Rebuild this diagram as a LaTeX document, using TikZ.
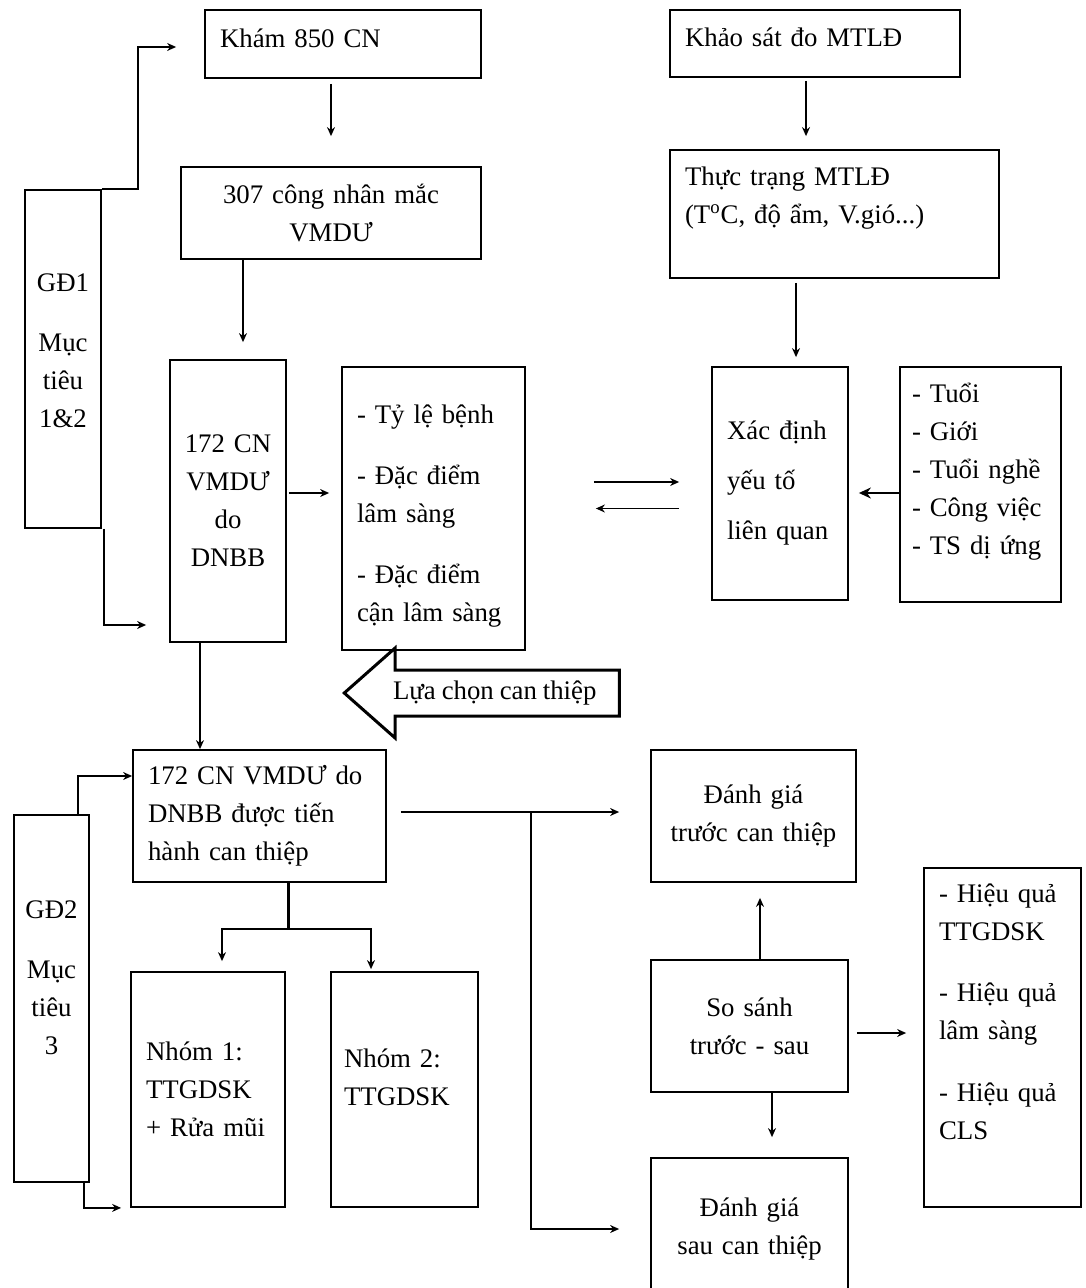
\documentclass[tikz,border=0pt]{standalone}
\usepackage{fontspec}
\setmainfont{Liberation Serif}
\usetikzlibrary{arrows.meta,shapes.arrows}
\newcommand{\boxfont}{\fontsize{13.4pt}{19pt}\selectfont\spaceskip=0.22em plus 0.1em minus 0.05em\relax}

\begin{document}
\begin{tikzpicture}[x=0.5pt, y=-0.5pt,
    box/.style={draw, line width=0.9pt, inner ysep=0pt, inner xsep=7.5pt, align=left, font=\boxfont},
    cbox/.style={box, align=center},
    arr/.style={-{Stealth[length=4.5pt,width=4pt]}, line width=0.6pt},
    bigarr/.style={-{Stealth[length=6pt,width=5.5pt]}, line width=0.8pt},
    bigarrow/.style={single arrow, draw, line width=1.5pt, shape border rotate=180,
        single arrow head extend=11pt, single arrow tip angle=83, minimum height=137.5pt,
        inner xsep=4pt, inner ysep=4pt, text height=10pt, text depth=3.5pt, font=\boxfont}]
    \useasboundingbox (0,0) rectangle (1085,1288);

    % Stage 1
    \node[box, text width=123pt, minimum height=34pt, text depth=6pt] (kham) at (343,44) {Khám 850 CN};
    \node[cbox, text width=135pt, minimum height=46pt] (cn307) at (331,213) {307 công nhân mắc\\VMDƯ};
    \node[cbox, inner xsep=4pt, text width=50pt, minimum height=141pt] (cn172) at (228,501) {172 CN\\VMDƯ\\do\\DNBB};
    \node[box, text width=76.5pt, minimum height=141.5pt, text depth=94pt] (tyle) at (433.5,508.5)
        {- Tỷ lệ bệnh\\[11.5pt]- Đặc điểm\\lâm sàng\\[11.5pt]- Đặc điểm\\cận lâm sàng};
    \node[cbox, inner xsep=2pt, text width=34pt, minimum height=169pt, text depth=76pt] (gd1) at (63,359)
        {GĐ1\\[11pt]Mục\\tiêu\\1\&2};

    % Work environment
    \node[box, text width=130pt, minimum height=33.5pt, text depth=6pt] (khaosat) at (815,43.5) {Khảo sát đo MTLĐ};
    \node[box, text width=149.5pt, minimum height=64pt, text depth=37.5pt] (thuctrang) at (834.5,214)
        {Thực trạng MTLĐ\\(T\textsuperscript{o}C, độ ẩm, V.gió...)};
    \node[box, text width=53pt, minimum height=116.5pt] (xacdinh) at (780,483.5)
        {Xác định\\[6pt]yếu tố\\[6pt]liên quan};
    \node[box, inner xsep=6pt, text width=68.5pt, minimum height=117.5pt, text depth=92pt] (tuoi) at (980.5,484.5)
        {- Tuổi\\- Giới\\- Tuổi nghề\\- Công việc\\- TS dị ứng};

    % Selection arrow
    \node[bigarrow, anchor=tip] (luachon) at (342,693) {Lựa chọn can thiệp};

    % Stage 2
    \node[box, text width=111.5pt, minimum height=66pt] (canthiep) at (259.5,816)
        {172 CN VMDƯ do\\DNBB được tiến\\hành can thiệp};
    \node[cbox, inner xsep=2pt, text width=33.5pt, minimum height=183.5pt, text depth=89pt] (gd2) at (51.5,998.5)
        {GĐ2\\[11pt]Mục\\tiêu\\3};
    \node[box, text width=62pt, minimum height=117.5pt] (nhom1) at (208,1089.5) {Nhóm 1:\\TTGDSK\\+ Rửa mũi};
    \node[box, inner xsep=6.5pt, text width=60.5pt, minimum height=117.5pt, text depth=31pt] (nhom2) at (404.5,1089.5)
        {Nhóm 2:\\TTGDSK};
    \node[cbox, text width=87.5pt, minimum height=66pt] (dgtruoc) at (753.5,816) {Đánh giá\\trước can thiệp};
    \node[cbox, text width=83.5pt, minimum height=66pt] (sosanh) at (749.5,1026) {So sánh\\trước - sau};
    \node[cbox, text width=83.5pt, minimum height=71pt] (dgsau) at (749.5,1229) {Đánh giá\\sau can thiệp};
    \node[box, text width=63.5pt, minimum height=169.5pt, text depth=144pt] (hieuqua) at (1002.5,1037.5)
        {- Hiệu quả\\TTGDSK\\[11.5pt]- Hiệu quả\\lâm sàng\\[12pt]- Hiệu quả\\CLS};

    % Connectors, stage 1
    \draw[arr, shorten <=2.5pt, shorten >=15pt] (cn307.north |- kham.south) -- (cn307.north);
    \draw[arr, shorten >=8.5pt] ([xshift=7.5pt]cn172.north |- cn307.south) -- ([xshift=7.5pt]cn172.north);
    \draw[arr, shorten <=1pt, shorten >=6pt] ([yshift=4pt]cn172.east) -- ([yshift=4pt]cn172.east -| tyle.west);
    \draw[arr, shorten >=14pt] (gd1.north east) -- ++(18pt,0) |- ([yshift=-1.5pt]kham.west);
    \draw[arr, shorten >=11.5pt] ([xshift=1pt]gd1.south east) |- ([yshift=-62pt]cn172.west);
    \draw[arr, shorten <=34pt, shorten >=16pt] ([yshift=13.25pt]tyle.east) -- ([yshift=13.25pt]tyle.east -| xacdinh.west);
    \draw[arr, shorten <=16pt, shorten >=35pt] (xacdinh.west |- tyle.east) -- (tyle.east);

    % Connectors, work environment
    \draw[arr, shorten <=1.5pt, shorten >=6.5pt] ([xshift=-4.5pt]khaosat.south) -- ([xshift=-4.5pt]khaosat.south |- thuctrang.north);
    \draw[arr, shorten <=2pt, shorten >=4.5pt] ([xshift=8pt]xacdinh.north |- thuctrang.south) -- ([xshift=8pt]xacdinh.north);
    \draw[bigarr, shorten >=5pt] ([yshift=-4.25pt]tuoi.west) -- ([yshift=-4.25pt]tuoi.west -| xacdinh.east);

    % Connectors, stage 2
    \draw[arr] ([xshift=-14pt]cn172.south) -- ([xshift=-14pt]cn172.south |- canthiep.north);
    \draw[arr] ([xshift=-6pt]gd2.north east) |- ([yshift=20pt]canthiep.west);
    \draw[arr, shorten >=4.5pt] ([xshift=-3pt]gd2.south east) |- (nhom1.south west);
    \coordinate[xshift=14.25pt, yshift=-23pt] (split) at (canthiep.south);
    \draw[line width=1.5pt] ([xshift=14.25pt]canthiep.south) -- (split);
    \draw[arr, shorten >=5pt] (split) -| ([xshift=7pt]nhom1.north);
    \draw[arr, shorten >=1pt] (split) -| ([xshift=-16.75pt]nhom2.north);
    \coordinate[xshift=72pt, yshift=2pt] (fork) at (canthiep.east);
    \draw[arr, shorten <=7pt, shorten >=15.5pt] ([yshift=2pt]canthiep.east) -- ([yshift=2pt]canthiep.east -| dgtruoc.west);
    \draw[arr, shorten >=15.5pt] (fork) |- (dgsau.west);
    \draw[arr, shorten >=7.5pt] ([xshift=5.25pt]sosanh.north) -- ([xshift=5.25pt]sosanh.north |- dgtruoc.south);
    \draw[arr, shorten >=10pt] ([xshift=11.25pt]sosanh.south) -- ([xshift=11.25pt]sosanh.south |- dgsau.north);
    \draw[arr, shorten <=4pt, shorten >=8.5pt] ([yshift=-3.5pt]sosanh.east) -- ([yshift=-3.5pt]sosanh.east -| hieuqua.west);

\end{tikzpicture}
\end{document}
